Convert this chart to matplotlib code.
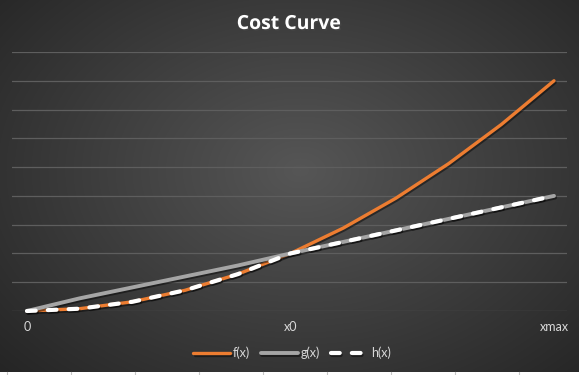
import numpy as np
import matplotlib
matplotlib.use("Agg")
import matplotlib.pyplot as plt
import matplotlib.patheffects as pe
from matplotlib.lines import Line2D

# ---- data ----
x_vals = [0.0, 0.2, 0.4, 0.6, 0.8, 1.0, 1.2, 1.4, 1.6, 1.8, 2.0]
f_vals = [0.0, 0.08, 0.32, 0.72, 1.28, 2.0, 2.88, 3.92, 5.12, 6.48, 8.0]
g_vals = [0.0, 0.44, 0.82, 1.20, 1.58, 2.0, 2.40, 2.80, 3.20, 3.60, 4.0]
h_vals = [0.0, 0.08, 0.32, 0.72, 1.28, 2.0, 2.40, 2.80, 3.20, 3.60, 4.0]
tick_pos = [0.0, 1.0, 2.0]
tick_labels = ["0", "x0", "xmax"]
series_names = ["f(x)", "g(x)", "h(x)"]
title = "Cost Curve"

W, H = 579, 375
fig = plt.figure(figsize=(W / 100, H / 100), dpi=100)
fig.patch.set_facecolor("white")

# background radial gradient (chart area)
bg = fig.add_axes([0, 3 / H, 1, 1 - 3 / H])
bg.set_axis_off()
yy, xx = np.mgrid[0:372, 0:579]
cx, cy = 300, 170
r = np.sqrt(((xx - cx) / 420.0) ** 2 + ((yy - cy) / 300.0) ** 2)
v = np.clip(86 - 50 * r, 30, 90) / 255.0
img = np.dstack([v, v, v])
bg.imshow(img, aspect="auto", extent=[0, 1, 0, 1], origin="upper")
bg.set_xlim(0, 1)
bg.set_ylim(0, 1)

# spreadsheet cell marks under the chart
for k in range(10):
    xp = (6.5 + 64 * k) / W
    fig.add_artist(Line2D([xp, xp], [0, 3 / H], color="#c8c8c8", lw=0.8,
                         transform=fig.transFigure))

# plot area
x_left, x_right = 12, 567
x0_px, x2_px = 27, 554
ppu = (x2_px - x0_px) / 2.0
xlim = ((x_left - x0_px) / ppu, (x_right - x0_px) / ppu)
ax = fig.add_axes([x_left / W, (H - 311) / H, (x_right - x_left) / W, (311 - 52) / H])
ax.set_facecolor("none")
ax.set_xlim(*xlim)
ax.set_ylim(0, 9)
for s in ax.spines.values():
    s.set_visible(False)
ax.set_yticks(range(0, 10))
ax.tick_params(axis="y", left=False, labelleft=False)
ax.grid(axis="y", color="#5e5e5e", lw=0.9)
ax.set_axisbelow(True)
ax.set_xticks(tick_pos)
ax.set_xticklabels(tick_labels, fontfamily="Lato", fontsize=9, color="#d9d9d9")
ax.tick_params(axis="x", bottom=False, pad=4)

shadow = [pe.SimpleLineShadow(offset=(0.8, -1.2), shadow_color="black", alpha=0.45), pe.Normal()]
ax.plot(x_vals, f_vals, color="#ed7d31", lw=2.4, solid_capstyle="round",
        clip_on=False, path_effects=shadow, label=series_names[0], zorder=3)
ax.plot(x_vals, g_vals, color="#a5a5a5", lw=2.8, solid_capstyle="round",
        clip_on=False, path_effects=shadow, label=series_names[1], zorder=3)
ax.plot(x_vals, h_vals, color="white", lw=3.0, linestyle=(0, (2.1, 2.9)),
        dash_capstyle="round", clip_on=False, path_effects=shadow,
        label=series_names[2], zorder=4)

leg = fig.legend(loc="center", bbox_to_anchor=(292 / W, 1 - 353 / H), ncol=3,
                 frameon=False, prop={"family": "Lato", "size": 9},
                 handlelength=2.9, handletextpad=0.25, columnspacing=0.9)
for t in leg.get_texts():
    t.set_color("#d9d9d9")

fig.text(289 / W, 1 - 24 / H, title, ha="center", va="center", color="white",
         fontsize=14, fontweight="bold", fontfamily="Open Sans",
         path_effects=[pe.withSimplePatchShadow(offset=(1, -1), alpha=0.5)])

fig.savefig("out.png", dpi=100, facecolor=fig.get_facecolor())
